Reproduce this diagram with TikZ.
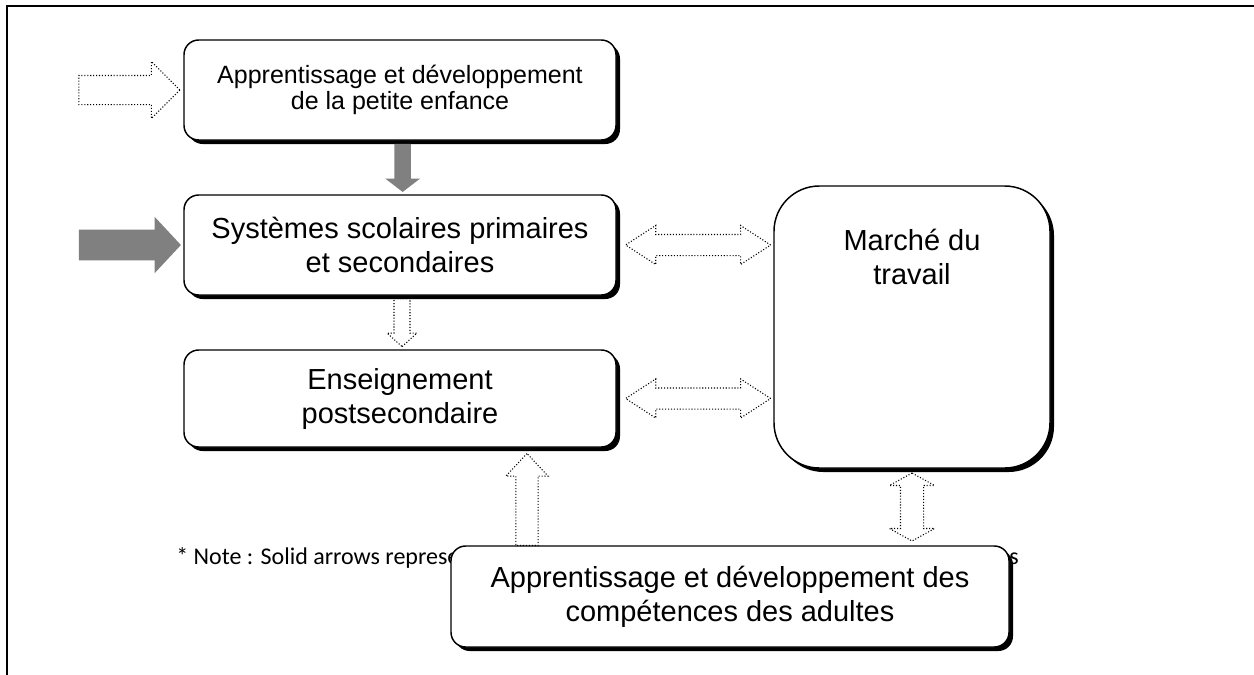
\documentclass[tikz,border=0pt]{standalone}
\usepackage{fontspec}
\setmainfont{Liberation Sans}
\newfontfamily\notefont{Carlito}
\usetikzlibrary{positioning,shapes.arrows,shadows,calc}

\begin{document}
\begin{tikzpicture}[
x=0.75pt, y=-0.75pt,
sysbox/.style={rectangle, rounded corners=11pt, draw, line width=1.1pt, fill=white, align=center,
  drop shadow={shadow xshift=3pt, shadow yshift=-3pt, fill=black, opacity=1},
  minimum width=324pt, minimum height=75pt, font=\fontsize{21.75}{25.5}\selectfont},
smallbox/.style={sysbox, font=\fontsize{18.75}{19.5}\selectfont},
bigbox/.style={sysbox, rounded corners=34pt, minimum width=207pt, minimum height=211.5pt},
widebox/.style={sysbox, minimum width=418.5pt, minimum height=75.75pt},
boxtext/.style={inner sep=0pt, align=center, font=\fontsize{21.75}{25.5}\selectfont},
notetext/.style={inner sep=0pt, font=\notefont\fontsize{18}{21}\selectfont},
arr/.style={single arrow, single arrow head indent=0pt, inner xsep=0pt, minimum width=0pt},
grayarrow/.style={arr, fill=gray, draw=none},
dotarrow/.style={arr, draw, dash pattern=on 0.8pt off 1.4pt, line width=0.8pt},
dotdouble/.style={double arrow, double arrow head indent=0pt, inner xsep=0pt, minimum width=0pt,
  draw, dash pattern=on 0.8pt off 1.4pt, line width=0.8pt}
]
\useasboundingbox (0,0) rectangle (1254,675);
\draw[line width=1.5pt] (7,675) -- (7,6) -- (1254,6);

\node[smallbox] (petite) at (400,90) {Apprentissage et développement\\de la petite enfance};
\node[sysbox] (scolaire) at (400,245) {Systèmes scolaires primaires\\et secondaires};
\node[sysbox, minimum height=72.75pt] (postsec) at (400,398.5) {Enseignement\\postsecondaire};
\node[bigbox] (marche) at (912,327) {};
\node[boxtext, below=33pt of marche.north] (marchetxt) {Marché du\\travail};

% note, partly hidden behind the adult box
\node[notetext, anchor=base west] (note) at (176,564) {* Note : Solid arrows represe};
\node[notetext, anchor=base east] (noteend) at (1019,564) {ns};
\node[widebox] (adultes) at (730,596.5) {Apprentissage et développement des\\compétences des adultes};

% arrows
\node[dotarrow, anchor=tip, minimum height=75.75pt, inner ysep=10.5pt,
  single arrow head extend=10.5pt, single arrow tip angle=90] (inpetite) at ([xshift=-2pt]petite.west) {};
\node[grayarrow, anchor=tip, minimum height=76.5pt, inner ysep=11.25pt,
  single arrow head extend=9.75pt, single arrow tip angle=94] (inscolaire) at ([xshift=-1.5pt]scolaire.west) {};
\node[grayarrow, anchor=tip, rotate=-90, minimum height=36pt, inner ysep=6pt,
  single arrow head extend=6.75pt, single arrow tip angle=105] (petitescolaire) at ([xshift=2pt, yshift=1.5pt]scolaire.north) {};
\node[dotarrow, anchor=tip, rotate=-90, minimum height=36pt, inner ysep=5.6pt,
  single arrow head extend=5.25pt, single arrow tip angle=96] (scolairepostsec) at ([xshift=1.5pt, yshift=1.5pt]postsec.north) {};
\node[dotarrow, anchor=tip, rotate=90, minimum height=69pt, inner ysep=7.9pt,
  single arrow head extend=7.5pt, single arrow tip angle=86] (adultespostsec) at ($(postsec.south)+(127,5)$) {};
\node[dotdouble, minimum height=108.75pt, inner ysep=7.5pt,
  double arrow head extend=6.75pt, double arrow tip angle=66] (scolairemarche) at ($(scolaire.east)!0.52!(marche.west |- scolaire.east)$) {};
\node[dotdouble, minimum height=108.75pt, inner ysep=7.5pt,
  double arrow head extend=6.75pt, double arrow tip angle=66] (postsecmarche) at ($(postsec.east)!0.52!(marche.west |- postsec.east)$) {};
\node[dotdouble, rotate=90, minimum height=51pt, inner ysep=8.25pt,
  double arrow head extend=8.25pt, double arrow tip angle=122] (marcheadultes) at ($(marche.south)!0.5!(marche.south |- adultes.north)$) {};
\end{tikzpicture}
\end{document}
